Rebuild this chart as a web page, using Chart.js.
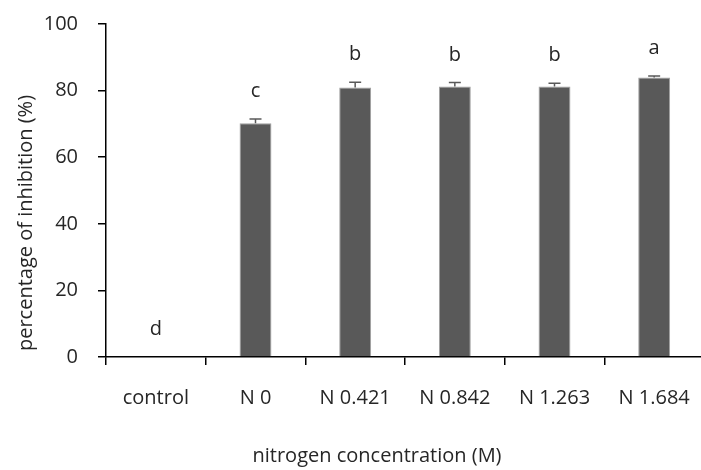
<!DOCTYPE html>
<html>
<head>
<meta charset="utf-8">
<script src="https://cdn.jsdelivr.net/npm/chart.js@4.4.0/dist/chart.umd.min.js"></script>
<style>
  html, body { margin: 0; padding: 0; background: #fff; overflow: hidden; }
  #wrap { width: 704px; height: 470px; }
</style>
</head>
<body>
<div id="wrap"><canvas id="chart" width="704" height="470"></canvas></div>
<script>
// data
const categories = ['control', 'N 0', 'N 0.421', 'N 0.842', 'N 1.263', 'N 1.684'];
const inhibition = [0, 70.2, 80.9, 81.2, 81.2, 83.9];
const errors = [0, 1.3, 1.6, 1.2, 1.0, 0.5];
const letters = ['d', 'c', 'b', 'b', 'b', 'a'];
const yTicks = [0, 20, 40, 60, 80, 100];

const TEXT = '#262626';
const FONT = '"Open Sans", "Noto Sans", sans-serif';

// error bars + significance letters + axis titles
const extras = {
  id: 'extras',
  afterDatasetsDraw(chart) {
    const ctx = chart.ctx;
    const x = chart.scales.x;
    const y = chart.scales.y;
    ctx.save();
    ctx.strokeStyle = '#595959';
    ctx.lineWidth = 1.5;
    inhibition.forEach((v, i) => {
      const cx = x.getPixelForValue(i);
      const top = y.getPixelForValue(v + errors[i]);
      if (errors[i] > 0) {
        ctx.beginPath();
        ctx.moveTo(cx, y.getPixelForValue(v));
        ctx.lineTo(cx, top);
        ctx.moveTo(cx - 6, top);
        ctx.lineTo(cx + 6, top);
        ctx.stroke();
      }
      ctx.fillStyle = TEXT;
      ctx.font = '20px ' + FONT;
      ctx.textAlign = 'center';
      ctx.textBaseline = 'alphabetic';
      ctx.fillText(letters[i], cx, top - 22);
    });

    ctx.fillStyle = TEXT;
    ctx.font = '20px ' + FONT;
    ctx.textAlign = 'center';
    ctx.textBaseline = 'middle';
    ctx.fillText('nitrogen concentration (M)', 377, 456);
    ctx.translate(26, 223);
    ctx.rotate(-Math.PI / 2);
    ctx.fillText('percentage of inhibition (%)', 0, 0);
    ctx.restore();
  }
};

new Chart(document.getElementById('chart'), {
  type: 'bar',
  data: {
    labels: categories,
    datasets: [{
      data: inhibition,
      backgroundColor: '#595959',
      borderColor: '#a0a0a0',
      borderWidth: 1,
      barPercentage: 0.32,
      categoryPercentage: 1
    }]
  },
  options: {
    responsive: false,
    animation: false,
    layout: { padding: { top: 24, right: 0, bottom: 0, left: 0 } },
    plugins: { legend: { display: false }, tooltip: { enabled: false } },
    scales: {
      x: {
        offset: true,
        afterFit: s => { s.height = 113; s.paddingLeft = 0; s.paddingRight = 0; },
        grid: { offset: true, drawOnChartArea: false, color: '#000', lineWidth: 1.5, tickLength: 8 },
        border: { color: '#000', width: 1.5 },
        ticks: { color: TEXT, font: { family: FONT, size: 20 }, padding: 21, maxRotation: 0 }
      },
      y: {
        min: 0,
        max: 100,
        afterFit: s => { s.width = 106; s.paddingTop = 0; s.paddingBottom = 0; },
        afterBuildTicks: s => { s.ticks = yTicks.map(v => ({ value: v })); },
        grid: { drawOnChartArea: false, color: '#000', lineWidth: 1.5, tickLength: 8 },
        border: { color: '#000', width: 1.5 },
        ticks: { color: TEXT, font: { family: FONT, size: 20 }, padding: 20 }
      }
    }
  },
  plugins: [extras]
});
</script>
</body>
</html>
